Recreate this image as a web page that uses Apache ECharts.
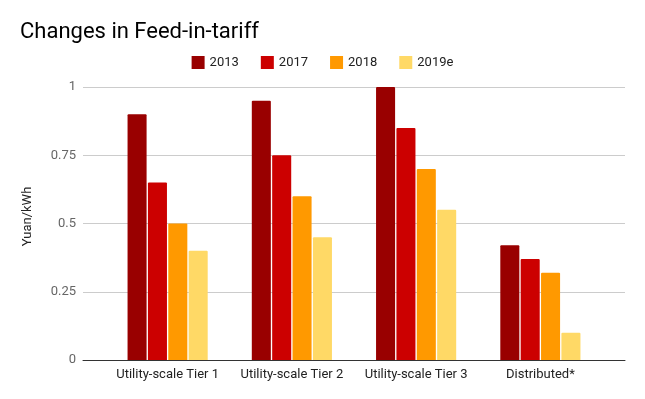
<!DOCTYPE html>
<html><head><meta charset="utf-8">
<script src="https://cdn.jsdelivr.net/npm/echarts@6/dist/echarts.min.js"></script>
<style>html,body{margin:0;padding:0;background:#fff}#c{width:645px;height:399px}</style>
</head><body><div id="c"></div>
<script>
const categories = ['Utility-scale Tier 1','Utility-scale Tier 2','Utility-scale Tier 3','Distributed*'];
const seriesNames = ['2013','2017','2018','2019e'];
const v2013 = [0.9, 0.95, 1.0, 0.42];
const v2017 = [0.65, 0.75, 0.85, 0.37];
const v2018 = [0.5, 0.6, 0.7, 0.32];
const v2019e = [0.4, 0.45, 0.55, 0.1];
const yTicks = ['0','0.25','0.5','0.75','1'];
const colors = ['#990000','#cc0000','#ff9900','#ffd966'];
const values = [v2013, v2017, v2018, v2019e];
const chart = echarts.init(document.getElementById('c'));
chart.setOption({
  animation:false,
  textStyle:{fontFamily:'Roboto'},
  title:{text:'Changes in Feed-in-tariff',left:15,top:16,textStyle:{fontFamily:'Roboto',fontSize:22,fontWeight:'normal',color:'#000'}},
  legend:{data:seriesNames,top:51,left:'center',itemWidth:13,itemHeight:13,itemGap:22,icon:'rect',textStyle:{fontSize:13,color:'#222'}},
  grid:[
    {left:83,right:20,top:87,bottom:39,containLabel:false},
    {left:105.5,right:42.5,top:87,bottom:39,containLabel:false}
  ],
  xAxis:[
    {type:'value',gridIndex:0,min:0,max:1,axisLabel:{show:false},splitLine:{show:false},axisTick:{show:false},axisLine:{show:true,onZero:false,lineStyle:{color:'#333'}}},
    {type:'category',gridIndex:1,data:categories,axisTick:{show:false},axisLine:{show:false},axisLabel:{interval:0,color:'#222',fontSize:13,margin:8}}
  ],
  yAxis:[
    {type:'value',gridIndex:0,min:0,max:1,interval:0.25,name:'Yuan/kWh',nameLocation:'middle',nameGap:49,nameTextStyle:{color:'#222',fontSize:13,padding:[0,0,0,14]},
      axisLabel:{color:'#666',fontSize:13,margin:7,formatter:(v)=>yTicks[Math.round(v/0.25)]},splitLine:{lineStyle:{color:'#ccc'}},axisLine:{show:false},axisTick:{show:false}},
    {type:'value',gridIndex:1,min:0,max:1,interval:0.25,show:false,splitLine:{show:false}}
  ],
  series: seriesNames.map((n,i)=>({name:n,type:'bar',xAxisIndex:1,yAxisIndex:1,data:values[i],itemStyle:{color:colors[i],borderRadius:[1,1,0,0]},barGap:'7%',barCategoryGap:'35.5%',z:3}))
});
</script></body></html>
